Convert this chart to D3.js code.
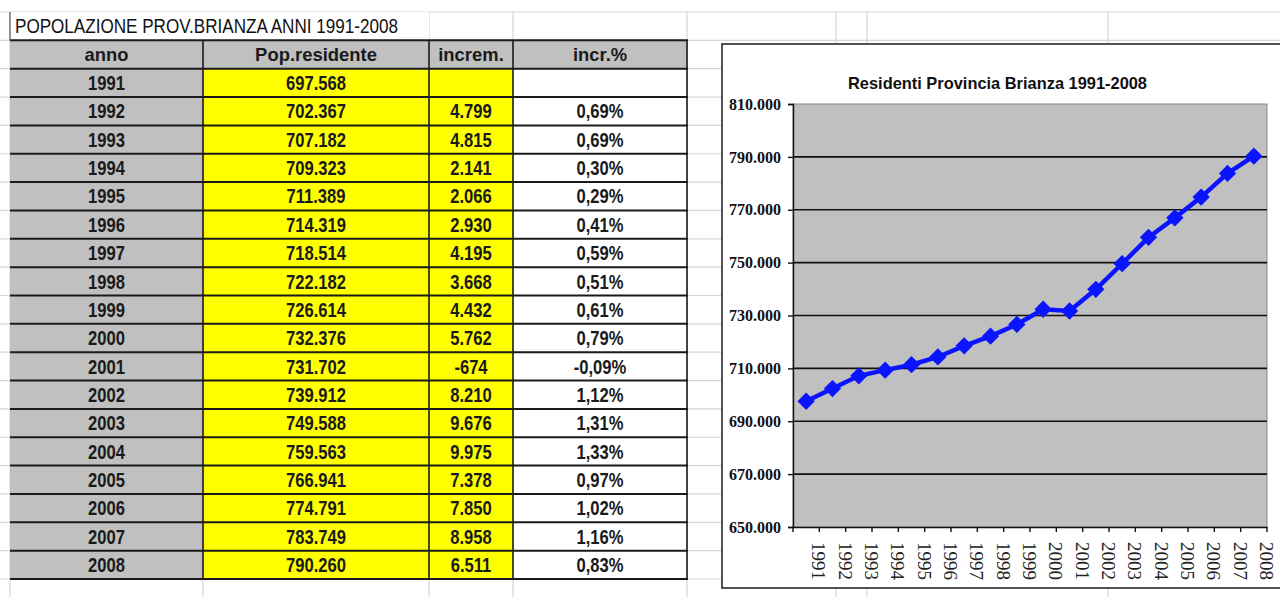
<!DOCTYPE html>
<html>
<head>
<meta charset="utf-8">
<script src="https://cdn.jsdelivr.net/npm/d3@7"></script>
<style>
  body { margin: 0; background: #fff; }
  svg { display: block; }
</style>
</head>
<body>
<div id="body"></div>
<script>
// data
var years = ["1991", "1992", "1993", "1994", "1995", "1996", "1997", "1998", "1999", "2000", "2001", "2002", "2003", "2004", "2005", "2006", "2007", "2008"];
var population = [697568, 702367, 707182, 709323, 711389, 714319, 718514, 722182, 726614, 732376, 731702, 739912, 749588, 759563, 766941, 774791, 783749, 790260];
var increments = [null, 4799, 4815, 2141, 2066, 2930, 4195, 3668, 4432, 5762, -674, 8210, 9676, 9975, 7378, 7850, 8958, 6511];
var percents = [null, 0.69, 0.69, 0.30, 0.29, 0.41, 0.59, 0.51, 0.61, 0.79, -0.09, 1.12, 1.31, 1.33, 0.97, 1.02, 1.16, 0.83];
var headers = ["anno", "Pop.residente", "increm.", "incr.%"];
var yTicks = [650000, 670000, 690000, 710000, 730000, 750000, 770000, 790000, 810000];
var sheetTitle = "POPOLAZIONE PROV.BRIANZA ANNI 1991-2008";
var chartTitle = "Residenti Provincia Brianza 1991-2008";

var width = 1280;
var height = 597;

var it = d3.formatLocale({ decimal: ",", thousands: ".", grouping: [3], currency: ["", "€"], minus: "-" });
var fmtInt = it.format(",d");
var fmtPct = function(v) { return it.format(".2f")(v) + "%"; };

var svg = d3.select("#body")
  .append("svg")
  .attr("width", width)
  .attr("height", height);

var sans = "'Liberation Sans', Arial, sans-serif";
var serif = "'Liberation Serif', 'DejaVu Serif', serif";

// spreadsheet rows: title, header, then one per year
var rowKeys = ["title", "head"].concat(years);
var extraRows = ["x1", "x2"];
var row = d3.scaleBand()
  .domain(rowKeys.concat(extraRows))
  .range([12, 12 + 22 * 28.35]);

// columns of the sheet
var colEdges = [10, 203, 429, 513, 687];
var sheetCols = [10, 203, 429, 513, 687, 836, 867, 1108];

// light sheet gridlines
var grid = svg.append("g")
  .attr("stroke", "#d6d6d6")
  .attr("stroke-width", 1.2);

grid.selectAll("line.h")
  .data(rowKeys.concat(extraRows))
  .enter().append("line")
  .attr("x1", 0)
  .attr("x2", width)
  .attr("y1", function(d) { return row(d); })
  .attr("y2", function(d) { return row(d); });

grid.selectAll("line.v")
  .data(sheetCols)
  .enter().append("line")
  .attr("x1", function(d) { return d; })
  .attr("x2", function(d) { return d; })
  .attr("y1", row("title"))
  .attr("y2", height);

// table
var table = svg.append("g");

table.append("rect")
  .attr("x", colEdges[0])
  .attr("y", row("title"))
  .attr("width", colEdges[2] - colEdges[0])
  .attr("height", row.bandwidth())
  .attr("fill", "#fff");

table.append("text")
  .attr("x", colEdges[0] + 5)
  .attr("y", row("title") + row.bandwidth() / 2)
  .attr("dy", "0.36em")
  .attr("font-family", sans)
  .attr("font-size", 20)
  .attr("textLength", 383)
  .attr("lengthAdjust", "spacingAndGlyphs")
  .attr("fill", "#111")
  .text(sheetTitle);

// header cells
headers.forEach(function(h, i) {
  table.append("rect")
    .attr("x", colEdges[i])
    .attr("y", row("head"))
    .attr("width", colEdges[i + 1] - colEdges[i])
    .attr("height", row.bandwidth())
    .attr("fill", "#c0c0c0");
});

// body cells
var cellFill = ["#c0c0c0", "#ffff00", "#ffff00", "#ffffff"];
years.forEach(function(y) {
  cellFill.forEach(function(c, i) {
    table.append("rect")
      .attr("x", colEdges[i])
      .attr("y", row(y))
      .attr("width", colEdges[i + 1] - colEdges[i])
      .attr("height", row.bandwidth())
      .attr("fill", c);
  });
});

// borders
var lastBottom = row(years[years.length - 1]) + row.bandwidth();
table.selectAll("line.rowline")
  .data(["head"].concat(years).concat(["end"]))
  .enter().append("line")
  .attr("x1", colEdges[0])
  .attr("x2", colEdges[4] + 1)
  .attr("y1", function(d) { return d === "end" ? lastBottom : row(d); })
  .attr("y2", function(d) { return d === "end" ? lastBottom : row(d); })
  .attr("stroke", "#1a1a1a")
  .attr("stroke-width", 2);

table.selectAll("line.colline")
  .data(colEdges.slice(1))
  .enter().append("line")
  .attr("x1", function(d) { return d; })
  .attr("x2", function(d) { return d; })
  .attr("y1", row("head"))
  .attr("y2", lastBottom)
  .attr("stroke", "#1a1a1a")
  .attr("stroke-width", 1.6);

table.append("line")
  .attr("x1", colEdges[0])
  .attr("x2", colEdges[0])
  .attr("y1", row("title"))
  .attr("y2", row("head"))
  .attr("stroke", "#555")
  .attr("stroke-width", 1.2);

// cell texts (narrow look: squeezed horizontally)
function cellText(key, col, str, size, sx) {
  var cx = (colEdges[col] + colEdges[col + 1]) / 2;
  var cy = row(key) + row.bandwidth() / 2;
  table.append("text")
    .attr("transform", "translate(" + cx + "," + cy + ") scale(" + sx + ",1)")
    .attr("dy", "0.36em")
    .attr("text-anchor", "middle")
    .attr("font-family", sans)
    .attr("font-weight", "bold")
    .attr("font-size", size)
    .attr("fill", "#1a1a1a")
    .text(str);
}

headers.forEach(function(h, i) { cellText("head", i, h, 19, 0.97); });
years.forEach(function(y, i) {
  cellText(y, 0, y, 20, 0.83);
  cellText(y, 1, fmtInt(population[i]), 20, 0.83);
  if (increments[i] !== null) cellText(y, 2, increments[i] < 0 ? String(increments[i]) : fmtInt(increments[i]), 20, 0.83);
  if (percents[i] !== null) cellText(y, 3, fmtPct(percents[i]), 20, 0.83);
});

// chart object
var box = { left: 722, top: 44, right: 1282, bottom: 588 };
var plot = { left: 793, top: 104, right: 1267, bottom: 527 };

svg.append("rect")
  .attr("x", box.left)
  .attr("y", box.top)
  .attr("width", box.right - box.left)
  .attr("height", box.bottom - box.top)
  .attr("fill", "#fff")
  .attr("stroke", "#2a2a2a")
  .attr("stroke-width", 1.6);

svg.append("text")
  .attr("x", 848)
  .attr("y", 83)
  .attr("dy", "0.35em")
  .attr("font-family", sans)
  .attr("font-weight", "bold")
  .attr("font-size", 17)
  .attr("textLength", 299)
  .attr("lengthAdjust", "spacingAndGlyphs")
  .attr("fill", "#111")
  .text(chartTitle);

var x = d3.scaleBand()
  .domain(years)
  .range([plot.left, plot.right]);

var y = d3.scaleLinear()
  .domain([yTicks[0], yTicks[yTicks.length - 1]])
  .range([plot.bottom, plot.top]);

svg.append("rect")
  .attr("x", plot.left)
  .attr("y", plot.top)
  .attr("width", plot.right - plot.left)
  .attr("height", plot.bottom - plot.top)
  .attr("fill", "#c0c0c0")
  .attr("stroke", "#888")
  .attr("stroke-width", 1);

svg.append("g")
  .selectAll("line")
  .data(yTicks.slice(1, -1))
  .enter().append("line")
  .attr("x1", plot.left)
  .attr("x2", plot.right)
  .attr("y1", function(d) { return y(d); })
  .attr("y2", function(d) { return y(d); })
  .attr("stroke", "#111")
  .attr("stroke-width", 1.6);

var yAxis = svg.append("g")
  .attr("transform", "translate(" + plot.left + ",0)")
  .call(d3.axisLeft(y)
    .tickValues(yTicks)
    .tickSize(5)
    .tickPadding(7)
    .tickFormat(function(d) { return fmtInt(d); }));

yAxis.select(".domain").attr("stroke", "#111").attr("stroke-width", 1.4);
yAxis.selectAll(".tick line").attr("stroke", "#111").attr("stroke-width", 1.4);
yAxis.selectAll(".tick text")
  .attr("font-family", serif)
  .attr("font-weight", "bold")
  .attr("font-size", 16)
  .attr("fill", "#111");

var xAxis = svg.append("g")
  .attr("transform", "translate(0," + plot.bottom + ")")
  .call(d3.axisBottom(x).tickSize(0).tickFormat(function(d) { return d; }));

xAxis.select(".domain").attr("stroke", "#111").attr("stroke-width", 1.6);
xAxis.selectAll(".tick text")
  .attr("font-family", serif)
  .attr("font-size", 19)
  .attr("fill", "#222")
  .attr("text-anchor", "start")
  .attr("transform", "translate(6,15) rotate(90)")
  .attr("x", 0)
  .attr("y", 0)
  .attr("dy", 0);

// band boundary ticks
svg.append("g")
  .selectAll("line")
  .data(years.concat(["end"]))
  .enter().append("line")
  .attr("x1", function(d) { return d === "end" ? plot.right : x(d); })
  .attr("x2", function(d) { return d === "end" ? plot.right : x(d); })
  .attr("y1", plot.bottom)
  .attr("y2", plot.bottom + 5)
  .attr("stroke", "#111")
  .attr("stroke-width", 1.4);

// series
var line = d3.line()
  .x(function(d, i) { return x(years[i]) + x.bandwidth() / 2; })
  .y(function(d) { return y(d); });

svg.append("path")
  .datum(population)
  .attr("d", line)
  .attr("fill", "none")
  .attr("stroke", "#0a14ff")
  .attr("stroke-width", 4.5);

svg.append("g")
  .selectAll("path")
  .data(population)
  .enter().append("path")
  .attr("transform", function(d, i) { return "translate(" + (x(years[i]) + x.bandwidth() / 2) + "," + y(d) + ") rotate(45)"; })
  .attr("d", d3.symbol().type(d3.symbolSquare).size(150))
  .attr("fill", "#0a14ff");
</script>
</body>
</html>
